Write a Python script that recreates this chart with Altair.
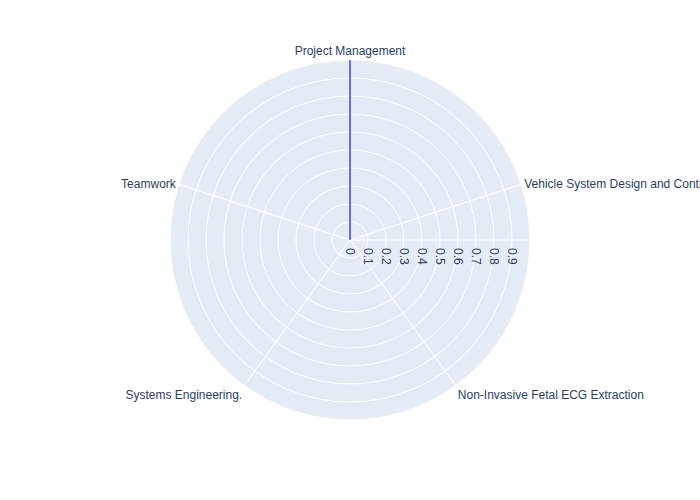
import altair as alt
import pandas as pd

categories = ["Project Management", "Vehicle System Design and Control",
              "Non-Invasive Fetal ECG Extraction", "Systems Engineering.", "Teamwork"]
values = [1, 0, 0, 0, 0]
tick_values = [0, 0.1, 0.2, 0.3, 0.4, 0.5, 0.6, 0.7, 0.8, 0.9]
tick_labels = ["0", "0.1", "0.2", "0.3", "0.4", "0.5", "0.6", "0.7", "0.8", "0.9"]
grid_r = [0.1, 0.2, 0.3, 0.4, 0.5, 0.6, 0.7, 0.8, 0.9]
r_max = 1.0

BG = "#E5ECF6"
FONT = "Liberation Sans"
TXT = "#2a3f5f"
W, H = 700, 500
CX, CY, R = 350, 240, 180

cat_df = pd.DataFrame({"cat": categories, "r": values, "i": list(range(len(categories)))})
tick_df = pd.DataFrame({"t": tick_values, "label": tick_labels})
grid_df = pd.DataFrame({"r": grid_r})
disk_df = pd.DataFrame({"r": [r_max]})

xs = alt.Scale(domain=[-CX / R, (W - CX) / R], range=[0, W], nice=False, zero=False)
ys = alt.Scale(domain=[-(H - CY) / R, CY / R], range=[H, 0], nice=False, zero=False)
rs = alt.Scale(domain=[0, r_max], range=[0, R], zero=True, nice=False)

n = len(categories)
ang = f"(90 - datum.i*360/{n})*PI/180"

base_cat = alt.Chart(cat_df).transform_calculate(
    a=ang,
    ux=f"cos({ang})",
    uy=f"sin({ang})",
    px=f"datum.r*cos({ang})",
    py=f"datum.r*sin({ang})",
    ex=f"{r_max}*cos({ang})",
    ey=f"{r_max}*sin({ang})",
    zero="0",
)

disk = alt.Chart(disk_df).mark_arc(theta=0, theta2=6.28319, fill=BG, stroke="white", strokeWidth=1).encode(
    radius=alt.Radius("r:Q", scale=rs, stack=None),
    x=alt.value(CX), y=alt.value(CY),
)

rings = alt.Chart(grid_df).mark_arc(theta=0, theta2=6.28319, fillOpacity=0, stroke="white", strokeWidth=1).encode(
    radius=alt.Radius("r:Q", scale=rs, stack=None),
    x=alt.value(CX), y=alt.value(CY),
)

spokes = base_cat.mark_rule(color="white", strokeWidth=1).encode(
    x=alt.X("zero:Q", scale=xs, axis=None),
    y=alt.Y("zero:Q", scale=ys, axis=None),
    x2="ex:Q", y2="ey:Q",
)

radial_line = alt.Chart(pd.DataFrame({"a": [0], "b": [r_max]})).mark_rule(color="white", strokeWidth=1).encode(
    x=alt.X("a:Q", scale=xs, axis=None),
    x2="b:Q",
    y=alt.Y("a:Q", scale=ys, axis=None),
)

trace = base_cat.mark_line(color="#636efa", strokeWidth=2).encode(
    x=alt.X("px:Q", scale=xs, axis=None),
    y=alt.Y("py:Q", scale=ys, axis=None),
    order="i:O",
)

def label_layer(filt, align, baseline, dx, dy):
    return base_cat.transform_filter(filt).mark_text(
        align=align, baseline=baseline, dx=dx, dy=dy, font=FONT, fontSize=12, color=TXT
    ).encode(
        x=alt.X("ex:Q", scale=xs, axis=None),
        y=alt.Y("ey:Q", scale=ys, axis=None),
        text="cat:N",
    )

lab_top = label_layer("abs(datum.ux) < 0.2 && datum.uy > 0", "center", "bottom", 0, -2)
lab_right = label_layer("datum.ux >= 0.2 && abs(datum.uy) < 0.6", "left", "middle", 3, 0)
lab_left = label_layer("datum.ux <= -0.2 && abs(datum.uy) < 0.6", "right", "middle", -3, 0)
lab_br = label_layer("datum.ux >= 0.2 && datum.uy <= -0.6", "left", "top", 2, 4)
lab_bl = label_layer("datum.ux <= -0.2 && datum.uy <= -0.6", "right", "top", -2, 4)

ticks = alt.Chart(tick_df).transform_calculate(zero="0").mark_text(
    angle=90, align="left", baseline="middle", dx=8, font=FONT, fontSize=12, color=TXT
).encode(
    x=alt.X("t:Q", scale=xs, axis=None),
    y=alt.Y("zero:Q", scale=ys, axis=None),
    text="label:N",
)

chart = alt.layer(
    disk, rings, spokes, radial_line, trace, ticks,
    lab_top, lab_right, lab_left, lab_br, lab_bl,
).properties(
    width=W, height=H, autosize=alt.AutoSizeParams(type="none"), padding=0, background="white"
).configure_view(stroke=None)

chart.save("out.html", embed_options={"renderer": "svg", "actions": False})
